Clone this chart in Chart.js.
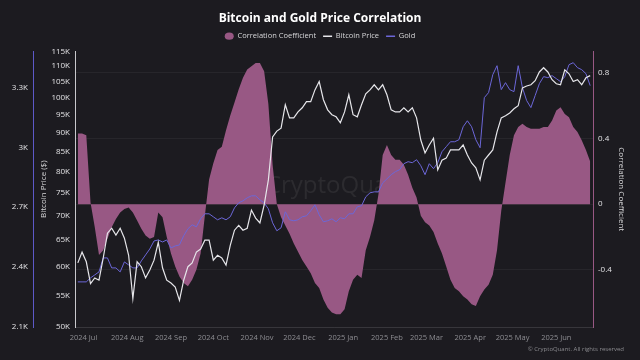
<!DOCTYPE html>
<html><head><meta charset="utf-8">
<script src="https://cdn.jsdelivr.net/npm/chart.js@4.4.1/dist/chart.umd.min.js"></script>
<style>html,body{margin:0;padding:0;background:#1c1b20;overflow:hidden}</style>
</head><body>
<canvas id="c" width="640" height="360"></canvas>
<script>
// Sample grid: days since 2024-06-27
const sampleDays = [0,3,6,9,12,15,18,21,24,27,30,33,36,39,42,45,48,51,54,57,60,63,66,69,72,75,78,81,84,87,90,93,96,99,102,105,108,111,114,117,120,123,126,129,132,135,138,141,144,147,150,153,156,159,162,165,168,171,174,177,180,183,186,189,192,195,198,201,204,207,210,213,216,219,222,225,228,231,234,237,240,243,246,249,252,255,258,261,264,267,270,273,276,279,282,285,288,291,294,297,300,303,306,309,312,315,318,321,324,327,330,333,336,339,342,345,348,351,354,357,360,363];

const correlation = [0.43,0.43,0.42,0.01,-0.14,-0.31,-0.28,-0.21,-0.14,-0.09,-0.05,-0.03,-0.02,-0.05,-0.10,-0.15,-0.19,-0.21,-0.20,-0.05,-0.08,-0.20,-0.30,-0.38,-0.44,-0.48,-0.50,-0.46,-0.40,-0.30,-0.07,0.15,0.25,0.33,0.35,0.45,0.54,0.62,0.70,0.77,0.82,0.84,0.86,0.86,0.81,0.61,0.24,0.00,-0.08,-0.13,-0.18,-0.24,-0.29,-0.34,-0.38,-0.42,-0.48,-0.51,-0.58,-0.63,-0.66,-0.67,-0.67,-0.64,-0.53,-0.46,-0.43,-0.45,-0.28,-0.20,-0.10,0.06,0.30,0.36,0.30,0.27,0.27,0.24,0.18,0.10,0.04,-0.07,-0.11,-0.13,-0.17,-0.24,-0.30,-0.38,-0.46,-0.51,-0.53,-0.56,-0.58,-0.61,-0.62,-0.56,-0.52,-0.49,-0.43,-0.28,-0.04,0.13,0.30,0.42,0.47,0.49,0.47,0.46,0.46,0.46,0.47,0.47,0.51,0.57,0.59,0.55,0.53,0.47,0.44,0.39,0.33,0.26];

const bitcoinK = [60.7,62.7,60.9,57.0,58.0,57.6,61.6,66.4,67.4,66.0,67.4,65.4,62.1,54.5,60.9,60.0,58.0,59.4,61.2,64.6,59.8,57.6,57.1,56.4,54.2,57.6,60.0,60.7,62.7,63.3,65.0,65.0,61.2,62.1,61.6,60.3,64.0,67.0,68.0,67.0,67.4,71.2,69.5,68.5,72.3,78.0,88.8,90.4,91.2,97.9,94.1,94.1,95.8,97.0,98.8,98.8,102.4,105.0,99.4,96.4,95.0,94.4,92.7,95.8,100.9,95.0,94.4,97.9,101.2,102.4,104.0,102.4,104.0,100.9,96.4,95.8,95.8,97.0,95.8,97.0,94.1,88.0,84.6,86.7,88.5,80.4,82.8,83.3,85.4,85.4,85.4,86.7,84.1,82.1,80.9,78.0,82.8,84.1,85.4,90.2,94.1,94.7,95.5,96.7,97.6,103.0,103.6,104.0,105.3,108.1,109.5,108.1,105.6,104.3,104.0,108.8,107.5,105.0,105.6,104.0,106.2,106.9];

const gold = [2326,2326,2326,2346,2361,2376,2446,2446,2396,2396,2376,2426,2411,2396,2396,2431,2461,2491,2531,2536,2526,2536,2496,2506,2511,2557,2592,2612,2602,2642,2667,2667,2652,2637,2647,2637,2652,2697,2722,2732,2747,2757,2757,2737,2722,2692,2622,2582,2597,2677,2637,2632,2637,2652,2657,2682,2712,2662,2627,2632,2642,2627,2647,2642,2667,2667,2702,2707,2752,2772,2777,2777,2822,2842,2863,2878,2888,2918,2928,2923,2938,2908,2863,2918,2893,2923,2978,3003,3028,3028,3038,3103,3133,3103,3038,2998,3249,3274,3364,3409,3289,3324,3289,3279,3409,3299,3234,3199,3259,3319,3354,3349,3359,3344,3329,3354,3414,3424,3399,3389,3369,3309];

const monthTickDays = [4,35,66,96,127,157,188,219,247,278,308,339];
const monthTickLabels = ['2024 Jul','2024 Aug','2024 Sep','2024 Oct','2024 Nov','2024 Dec','2025 Jan','2025 Feb','2025 Mar','2025 Apr','2025 May','2025 Jun'];
const bitcoinTicks = [50000,55000,60000,65000,70000,75000,80000,85000,90000,95000,100000,105000,110000,115000];
const goldTicks = [2100,2400,2700,3000,3300];
const corrTicks = [-0.4,0,0.4,0.8];

const FONT = '"Open Sans", "Noto Sans", sans-serif';
Chart.defaults.font.family = FONT;

const PINK = '#985884';
const WHITE = '#e6e6ea';
const BLUE = '#6c67d8';

const extras = {
  id: 'extras',
  beforeInit(chart) {
    const lg = chart.legend;
    if (lg) {
      const origFit = lg.fit;
      lg.fit = function () { origFit.call(this); this.height += 1.6; };
    }
  },
  beforeDatasetsDraw(chart) {
    const {ctx, chartArea: a} = chart;
    ctx.save();
    ctx.font = '24px ' + FONT;
    ctx.fillStyle = 'rgba(255,255,255,0.07)';
    ctx.textAlign = 'center';
    ctx.textBaseline = 'middle';
    ctx.fillText('CryptoQuant', a.left + (a.right - a.left) * 0.508, a.top + (a.bottom - a.top) * 0.49);
    ctx.restore();
  },
  afterDraw(chart) {
    const {ctx} = chart;
    ctx.save();
    ctx.font = '6px ' + FONT;
    ctx.fillStyle = '#8a8a8e';
    ctx.textAlign = 'right';
    ctx.textBaseline = 'middle';
    ctx.fillText('© CryptoQuant. All rights reserved', 624, 349);
    ctx.restore();
  }
};

new Chart(document.getElementById('c'), {
  type: 'line',
  data: {
    datasets: [
      { label: 'Correlation Coefficient', data: sampleDays.map((d, i) => ({x: d, y: correlation[i]})),
        yAxisID: 'yCorr', fill: 'origin', backgroundColor: PINK, borderColor: PINK, borderWidth: 0,
        pointRadius: 0, tension: 0, order: 3 },
      { label: 'Bitcoin Price', data: sampleDays.map((d, i) => ({x: d, y: bitcoinK[i] * 1000})),
        yAxisID: 'yBtc', borderColor: WHITE, borderWidth: 1.2, pointRadius: 0, tension: 0, fill: false, order: 1 },
      { label: 'Gold', data: sampleDays.map((d, i) => ({x: d, y: gold[i]})),
        yAxisID: 'yGold', borderColor: BLUE, borderWidth: 1, pointRadius: 0, tension: 0, fill: false, order: 2 }
    ]
  },
  options: {
    responsive: false,
    animation: false,
    devicePixelRatio: 1,
    layout: { padding: 0 },
    plugins: {
      title: { display: true, text: 'Bitcoin and Gold Price Correlation', color: '#ffffff',
        font: { family: FONT, size: 12, weight: 'bold' }, padding: { top: 11, bottom: 0 } },
      legend: {
        display: true,
        labels: {
          color: '#d6d6d8', font: { family: FONT, size: 7.5 }, usePointStyle: true,
          boxHeight: 5, boxWidth: 9, pointStyleWidth: 9, padding: 7,
          generateLabels(chart) {
            const cols = [PINK, WHITE, BLUE];
            return chart.data.datasets.map((ds, i) => ({
              text: ds.label, fillStyle: cols[i], strokeStyle: cols[i], lineWidth: i === 0 ? 0 : 1.5,
              pointStyle: i === 0 ? 'circle' : 'line', hidden: false, datasetIndex: i, fontColor: '#d6d6d8'
            }));
          }
        }
      },
      tooltip: { enabled: false }
    },
    scales: {
      x: {
        type: 'linear', min: -2, max: 365,
        afterBuildTicks: s => { s.ticks = monthTickDays.map(v => ({value: v})); },
        afterFit: s => { s.height = 33; },
        ticks: { autoSkip: false, maxRotation: 0, padding: 6, color: '#8d8d92', font: { size: 7.5 },
          callback: v => monthTickLabels[monthTickDays.indexOf(v)] },
        grid: { display: false, drawTicks: false },
        border: { display: true, color: 'rgba(255,255,255,0.12)', width: 1 }
      },
      yGold: {
        type: 'linear', position: 'left', weight: 2, min: 2100, max: 3480,
        afterBuildTicks: s => { s.ticks = goldTicks.map(v => ({value: v})); },
        afterFit: s => { s.width = 33; },
        ticks: { padding: 5, color: '#e2e2e4', font: { size: 8 }, callback: v => (v / 1000) + 'K' },
        grid: { display: false, drawTicks: false },
        border: { display: true, color: '#5d59c8', width: 1 }
      },
      yBtc: {
        type: 'logarithmic', position: 'left', weight: 1, min: 50000, max: 115000,
        afterBuildTicks: s => { s.ticks = bitcoinTicks.map(v => ({value: v})); },
        afterFit: s => { s.width = 42; },
        ticks: { padding: 5, color: '#e2e2e4', font: { size: 8 }, callback: v => (v / 1000) + 'K' },
        title: { display: true, text: 'Bitcoin Price ($)', color: '#d6d6d8', font: { size: 8 }, padding: { top: 6, bottom: 0 } },
        grid: { display: false, drawTicks: false },
        border: { display: true, color: '#c8c8cc', width: 1 }
      },
      yCorr: {
        type: 'linear', position: 'right', min: -0.748, max: 0.93,
        afterBuildTicks: s => { s.ticks = corrTicks.map(v => ({value: v})); },
        afterFit: s => { s.width = 47; },
        ticks: { padding: 5, color: '#e2e2e4', font: { size: 8 }, callback: v => String(v) },
        title: { display: true, text: 'Correlation Coefficient', color: '#d6d6d8', font: { size: 8 }, padding: { top: 14, bottom: 0 } },
        grid: { drawTicks: false, color: 'rgba(255,255,255,0.05)', lineWidth: 1 },
        border: { display: true, color: PINK, width: 1 }
      }
    }
  },
  plugins: [extras]
});
</script>
</body></html>
